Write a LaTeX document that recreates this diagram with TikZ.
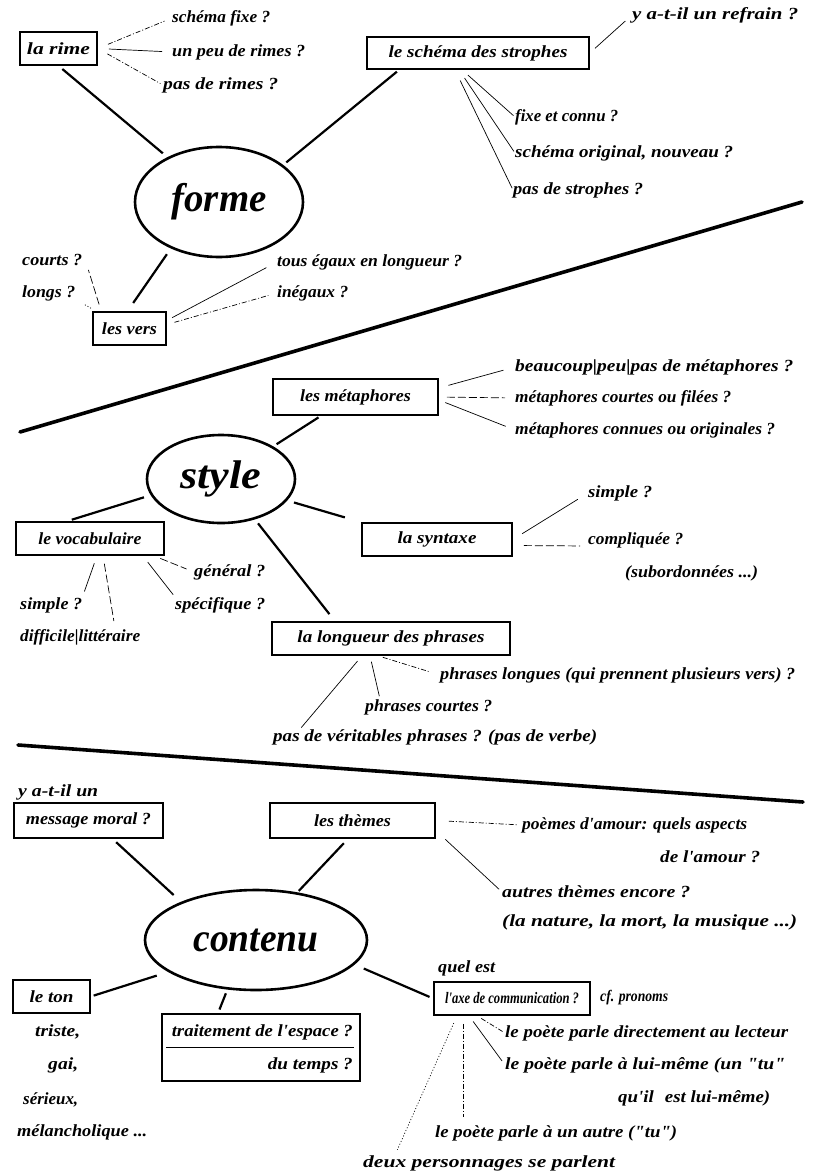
\documentclass[tikz,border=0pt]{standalone}
\usepackage{graphicx}
\usepackage{fontspec}
\usetikzlibrary{shapes.geometric}
\newfontfamily\handfam{Liberation Serif}
\newcommand\mmsmall{\handfam\fontsize{17}{19}\selectfont\bfseries\itshape}
\newcommand\mmtight{\fontsize{16}{18}\selectfont}
\newcommand\mmbig{\handfam\fontsize{40}{44}\selectfont\bfseries\itshape}
% set a handwritten label to a given width, keeping its height
\newcommand\tw[2]{\resizebox{#1pt}{\height}{#2}}
\begin{document}
\begin{tikzpicture}[x=1pt,y=-1pt,
  every node/.style={font=\mmsmall},
  box/.style={draw, line width=1.6pt, rectangle, inner sep=0pt},
  oval/.style={draw, line width=2.6pt, ellipse, inner sep=0pt, font=\mmbig},
  lbl/.style={anchor=west, inner sep=0pt},
  lblr/.style={anchor=east, inner sep=0pt},
  main/.style={line width=2.2pt},
  fine/.style={line width=0.7pt},
  lnDashDot/.style={fine, dash pattern=on 5pt off 2pt on 1pt off 2pt},
  lnDash/.style={fine, dash pattern=on 8pt off 3pt},
  lnDot/.style={fine, dash pattern=on 1pt off 2pt},
  divider/.style={line width=3.6pt, line cap=round}]

\fill[white] (0,0) rectangle (813,1175);
\useasboundingbox (0,0) rectangle (813,1175);

% ---------- forme ----------
\node[oval, minimum width=168pt, minimum height=110pt] (forme) at (219,202) {\tw{95}{forme}};
\node[box, minimum width=77pt, minimum height=33pt] (rime) at (58.5,48.5) {\tw{63}{la rime}};
\node[box, minimum width=222pt, minimum height=32pt] (schema) at (478,53) {\tw{179}{le schéma des strophes}};
\node[box, minimum width=73pt, minimum height=33pt] (vers) at (129.5,328.5) {\tw{55}{les vers}};

\node[lbl] (sfixe) at (172,18) {\tw{98}{schéma fixe ?}};
\node[lbl] (peu) at (172,52) {\tw{133}{un peu de rimes ?}};
\node[lbl] (pasrimes) at (163,85) {\tw{115}{pas de rimes ?}};
\node[lbl] (refrain) at (632,15) {\tw{166}{y a-t-il un refrain ?}};
\node[lbl] (fixe) at (515,117) {\tw{103}{fixe et connu ?}};
\node[lbl] (orig) at (515,153) {\tw{218}{schéma original, nouveau ?}};
\node[lbl] (nostr) at (513,190) {\tw{130}{pas de strophes ?}};
\node[lbl] (courts) at (22,260) {\tw{60}{courts ?}};
\node[lbl] (longs) at (22,293) {\tw{53}{longs ?}};
\node[lbl] (egaux) at (277,262) {\tw{185}{tous égaux en longueur ?}};
\node[lbl] (inegaux) at (277,293) {\tw{71}{inégaux ?}};

\draw[main, shorten <=5pt, shorten >=6pt] (rime.south) -- (forme.139);
\draw[main, shorten <=3pt, shorten >=4pt] ([xshift=33pt]schema.south west) -- (forme.30);
\draw[main, shorten <=7pt, shorten >=10pt] (forme.224) -- ([xshift=-2pt]vers.north);

\draw[lnDashDot, shorten <=11pt, shorten >=8pt] (rime.east) -- (sfixe.west);
\draw[fine, shorten <=11pt, shorten >=10pt] (rime.east) -- (peu.west);
\draw[lnDashDot, shorten <=11pt, shorten >=3pt] (rime.east) -- (pasrimes.west);
\draw[fine, shorten <=7pt, shorten >=9pt] (schema.east) -- (refrain.west);
\draw[fine, shorten <=8pt, shorten >=2pt] ([xshift=-16pt]schema.south) -- (fixe.west);
\draw[fine, shorten <=10pt, shorten >=2pt] ([xshift=-19pt]schema.south) -- (orig.west);
\draw[fine, shorten <=12pt, shorten >=2pt] ([xshift=-23pt]schema.south) -- (nostr.west);
\draw[lnDash, shorten <=7pt] ([xshift=9pt]vers.north west) -- ([xshift=6pt,yshift=-4pt]courts.south east);
\draw[lnDot, shorten <=6pt] ([xshift=4pt]vers.north west) -- ([xshift=8pt,yshift=-3pt]longs.south east);
\draw[fine, shorten <=6pt, shorten >=12pt] ([yshift=8pt]vers.east) -- (egaux.west);
\draw[lnDashDot, shorten <=8pt, shorten >=9pt] ([yshift=4pt]vers.east) -- (inegaux.west);

\draw[divider] (20,432) -- (802,202);

% ---------- style ----------
\node[oval, minimum width=148pt, minimum height=88pt] (style) at (221,479) {\tw{81}{style}};
\node[box, minimum width=165pt, minimum height=36pt] (metaph) at (355.5,397) {\tw{111}{les métaphores}};
\node[box, minimum width=148pt, minimum height=33pt] (vocab) at (90,538.5) {\tw{103}{le vocabulaire}};
\node[box, minimum width=150pt, minimum height=33pt] (syntaxe) at (437,539.5) {\tw{79}{la syntaxe}};
\node[box, minimum width=238pt, minimum height=33pt] (longueur) at (391,638.5) {\tw{187}{la longueur des phrases}};

\node[lbl] (beau) at (515,367) {\tw{278}{beaucoup|peu|pas de métaphores ?}};
\node[lbl] (filees) at (515,398) {\tw{216}{métaphores courtes ou filées ?}};
\node[lbl] (connues) at (515,430) {\tw{260}{métaphores connues ou originales ?}};
\node[lbl] (general) at (194,572) {\tw{71}{général ?}};
\node[lbl] (specif) at (175,605) {\tw{90}{spécifique ?}};
\node[lbl] (vsimple) at (20,605) {\tw{62}{simple ?}};
\node[lbl] (diffic) at (20,637) {\tw{120}{difficile|littéraire}};
\node[lbl] (ssimple) at (588,493) {\tw{64}{simple ?}};
\node[lbl] (compl) at (588,540) {\tw{95}{compliquée ?}};
\node[lbl] (subord) at (625,573) {\tw{133}{(subordonnées ...)}};
\node[lbl] (plong) at (440,675) {\tw{355}{phrases longues (qui prennent plusieurs vers) ?}};
\node[lbl] (pcourt) at (365,707) {\tw{127}{phrases courtes ?}};
\node[lbl] (pasver) at (273,737) {\tw{324}{pas de véritables phrases ? (pas de verbe)}};

\draw[main, shorten <=3pt, shorten >=4pt] ([xshift=-34.5pt]metaph.south) -- (style.32);
\draw[main, shorten <=7pt, shorten >=5pt] (style.193) -- ([xshift=-23pt]vocab.north);
\draw[main, shorten <=7pt, shorten >=17pt] (style.342) -- (syntaxe.north west);
\draw[main, shorten <=5pt, shorten >=9pt] (style.310) -- ([xshift=-56pt]longueur.north);

\draw[fine, shorten <=10pt, shorten >=12pt] ([yshift=9pt]metaph.east) -- (beau.west);
\draw[lnDash, shorten <=8pt, shorten >=10pt] (metaph.east) -- (filees.west);
\draw[fine, shorten <=7pt, shorten >=10pt] ([yshift=-3pt]metaph.east) -- (connues.west);
\draw[lnDash, shorten <=7pt, shorten >=8pt] ([xshift=-11pt]vocab.south east) -- (general.west);
\draw[fine, shorten <=8pt, shorten >=3pt] ([xshift=-22pt]vocab.south east) -- (specif.north west);
\draw[fine, shorten <=8pt, shorten >=6pt] ([xshift=7pt]vocab.south) -- (vsimple.north east);
\draw[lnDash, shorten <=8pt, shorten >=8pt] ([xshift=13pt]vocab.south) -- ([xshift=35pt]diffic.north);
\draw[fine, shorten <=11pt, shorten >=12pt] (syntaxe.east) -- (ssimple.west);
\draw[lnDash, shorten <=11pt, shorten >=8pt] ([yshift=-6pt]syntaxe.east) -- ([yshift=-6pt]compl.west);
\draw[lnDashDot, shorten <=5pt, shorten >=10pt] ([xshift=-13pt]longueur.south) -- (plong.west);
\draw[fine, shorten <=6pt, shorten >=3pt] ([xshift=-21pt]longueur.south) -- ([xshift=15pt]pcourt.north west);
\draw[fine, shorten <=7pt, shorten >=2pt] ([xshift=-29pt]longueur.south) -- ([xshift=27pt]pasver.north west);

\draw[divider] (18,745) -- (803,802);

% ---------- contenu ----------
\node[oval, minimum width=222pt, minimum height=100pt] (contenu) at (256,940) {\tw{125}{contenu}};
\node[box, minimum width=149pt, minimum height=35pt] (message) at (88.5,820.5) {\tw{125}{message moral ?}};
\node[box, minimum width=165pt, minimum height=35pt] (themes) at (352.5,820.5) {\tw{77}{les thèmes}};
\node[box, minimum width=77pt, minimum height=33pt] (ton) at (51.5,996.5) {\tw{44}{le ton}};
\node[box, minimum width=198pt, minimum height=67pt] (espace) at (261,1047.5) {};
\node[box, minimum width=156pt, minimum height=33pt] (axe) at (512,998.5) {\mmtight\tw{134}{l'axe de communication ?}};

\node[lbl] (yail) at (18,792) {\tw{80}{y a-t-il un}};
\node[lbl] (poemes) at (522,825) {\tw{225}{poèmes d'amour: quels aspects}};
\node[lbl] (delamour) at (660,857) {\tw{100}{de l'amour ?}};
\node[lbl] (autres) at (502,892) {\tw{188}{autres thèmes encore ?}};
\node[lbl] (nature) at (502,922) {\tw{295}{(la nature, la mort, la musique ...)}};
\node[lbl] (triste) at (35,1032) {\tw{45}{triste,}};
\node[lbl] (gai) at (48,1065) {\tw{30}{gai,}};
\node[lbl] (serieux) at (23,1100) {\tw{55}{sérieux,}};
\node[lbl] (melan) at (17,1132) {\tw{130}{mélancholique ...}};
\node[lblr] (tespace) at (353,1032) {\tw{181}{traitement de l'espace ?}};
\node[lblr] (ttemps) at (353,1065) {\tw{85}{du temps ?}};
\node[lbl] (quelest) at (438,968) {\tw{57}{quel est}};
\node[lbl] (cf) at (600,998) {\mmtight\tw{68}{cf. pronoms}};
\node[lbl] (direct) at (505,1033) {\tw{283}{le poète parle directement au lecteur}};
\node[lbl] (luimeme) at (505,1065) {\tw{280}{le poète parle à lui-même (un "tu"}};
\node[lbl] (quil) at (618,1098) {\tw{152}{qu'il\,\, est lui-même)}};
\node[lbl] (autre) at (435,1133) {\tw{242}{le poète parle à un autre ("tu")}};
\node[lbl] (deux) at (363,1163) {\tw{252}{deux personnages se parlent}};

\draw[fine] ([xshift=5pt]espace.west) -- ([xshift=-7pt]espace.east);

\draw[main, shorten <=5pt, shorten >=10pt] ([xshift=24pt]message.south) -- (contenu.153);
\draw[main, shorten <=6pt, shorten >=2pt] ([xshift=-4.5pt]themes.south) -- (contenu.49);
\draw[main, shorten <=12pt, shorten >=3pt] (contenu.200) -- (ton.east);
\draw[main, shorten <=4pt, shorten >=4pt] (contenu.240) -- ([xshift=-43pt]espace.north);
\draw[main, shorten <=10pt, shorten >=4pt] (contenu.346) -- (axe.west);

\draw[lnDashDot, shorten <=13pt, shorten >=4pt] (themes.east) -- (poemes.west);
\draw[fine, shorten <=13pt, shorten >=4pt] ([yshift=-10pt]themes.east) -- (autres.west);
\draw[lnDashDot, shorten <=5pt, shorten >=2pt] ([xshift=-35pt]axe.south) -- (direct.west);
\draw[fine, shorten <=7pt, shorten >=5pt] ([xshift=-43pt]axe.south) -- (luimeme.west);
\draw[lnDashDot, shorten <=8pt, shorten >=8pt] ([xshift=-49pt]axe.south) -- ([xshift=28pt]autre.north west);
\draw[lnDot, shorten <=8pt, shorten >=6pt] ([xshift=-55pt]axe.south) -- ([xshift=32pt]deux.north west);
\end{tikzpicture}
\end{document}
